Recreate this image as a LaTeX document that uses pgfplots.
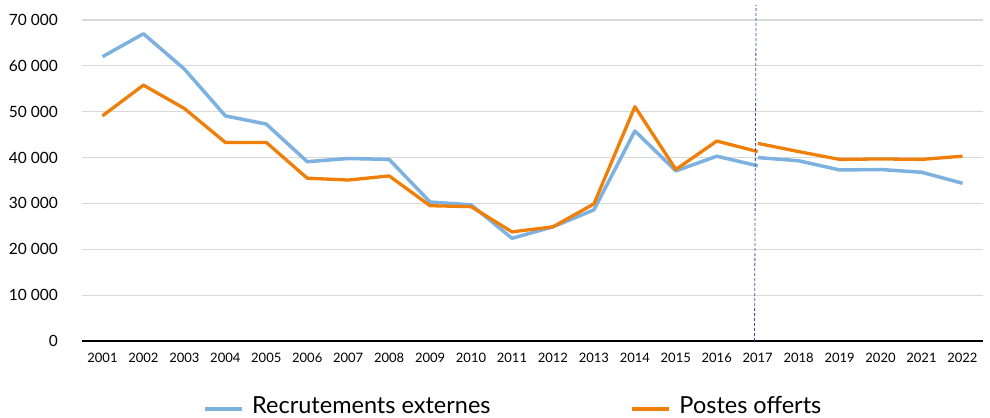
\documentclass[border=0pt]{standalone}
\usepackage{fontspec}
\setmainfont{Lato}
\usepackage{pgfplots}
\pgfplotsset{compat=1.18}

\definecolor{bleu}{HTML}{7DB1E0}
\definecolor{orng}{HTML}{F07F09}
\definecolor{grille}{HTML}{D9D9D9}
\definecolor{repere}{HTML}{3A4FA8}

\begin{document}
\begin{tikzpicture}
\path (-82bp,-77bp) rectangle (908bp,341bp);
\begin{axis}[
  scale only axis,
  width=901bp, height=321bp,
  xmin=2000.5, xmax=2022.5,
  ymin=0, ymax=70000,
  xtick={2001,...,2022},
  ytick={0,10000,...,70000},
  axis x line*=bottom, axis y line*=left,
  x axis line style={black, line width=1.2bp, -},
  y axis line style={draw=none},
  major tick length=0pt,
  ymajorgrids,
  grid style={grille, line width=1.2bp},
  scaled y ticks=false,
  /pgf/number format/assume math mode=true,
  xticklabel style={inner sep=0pt, font=\fontsize{13bp}{15bp}\selectfont,
    /pgf/number format/1000 sep={}},
  yticklabel style={inner sep=0pt, font=\fontsize{15.5bp}{18bp}\selectfont,
    /pgf/number format/1000 sep={\ }},
  xticklabel shift=11.5bp,
  yticklabel shift=24bp,
  unbounded coords=jump,
  clip=false,
  legend columns=2,
  legend style={at={(0.1343,-0.2025)}, anchor=west, draw=none, fill=none,
    inner sep=0pt, font=\fontsize{23.5bp}{27bp}\selectfont,
    nodes={inner sep=0pt},
    /tikz/every odd column/.append style={column sep=8bp},
    /tikz/every even column/.append style={column sep=140bp}},
  legend image code/.code={\draw[#1, line width=4bp] (0bp,-3bp) -- (37bp,-3bp);},
]
\addplot[bleu, line width=3.5bp, line join=round] coordinates {
  (2001,62000) (2002,67000) (2003,59300) (2004,49100) (2005,47300)
  (2006,39100) (2007,39800) (2008,39600) (2009,30300) (2010,29700)
  (2011,22400) (2012,24900) (2013,28600) (2014,45800) (2015,37100)
  (2016,40300) (2017,38200) (2017,nan)
  (2017,40000) (2018,39300) (2019,37300) (2020,37400) (2021,36800)
  (2022,34400)
};
\addlegendentry{Recrutements externes}
\addplot[orng, line width=3.3bp, line join=round] coordinates {
  (2001,49100) (2002,55800) (2003,50700) (2004,43300) (2005,43300)
  (2006,35500) (2007,35100) (2008,36000) (2009,29500) (2010,29300)
  (2011,23800) (2012,24900) (2013,29900) (2014,51100) (2015,37400)
  (2016,43600) (2017,41300) (2017,nan)
  (2017,43100) (2018,41300) (2019,39600) (2020,39700) (2021,39600)
  (2022,40300)
};
\addlegendentry{Postes offerts}
\draw[repere, line width=0.8bp, dash pattern=on 3bp off 2bp]
  (axis cs:2016.92,0) -- (axis cs:2016.96,73300);
\end{axis}
\end{tikzpicture}
\end{document}
